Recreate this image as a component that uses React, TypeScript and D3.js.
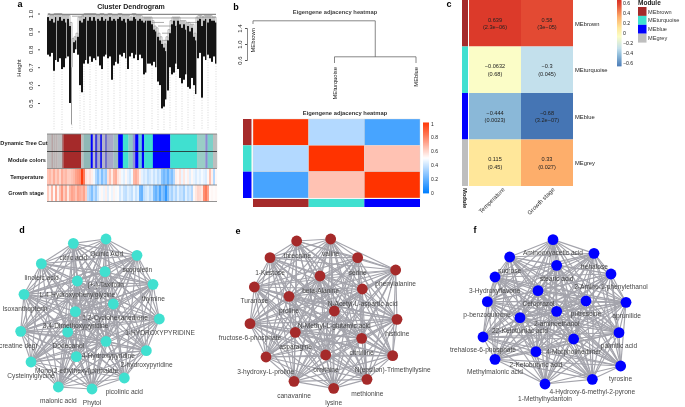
import * as d3 from "d3";
import { useEffect, useRef } from "react";

// panel a: dendrogram columns (height units), left to right
const dendroLow = [.77,.76,.78,.68,.74,.73,.75,.69,.70,.75,.76,.50,.38,.78,.80,.77,.60,.56,.72,.74,.72,.76,.73,.75,.74,.76,.71,.69,.76,.77,.75,.76,.63,.71,.73,.72,.77,.76,.78,.75,.69,.76,.78,.75,.77,.74,.77,.75,.66,.67,.72,.72,.71,.73,.70,.62,.60,.47,.48,.52,.57,.70,.66,.67,.72,.69,.64,.61,.63,.66,.59,.58,.64,.60,.55,.75,.78,.53,.76,.74,.77,.75,.73,.76,.72];
const dendroTop = [.98,.96,.97,.95,.98,.96,.98,.96,.97,.95,.97,.93,.70,.84,.85,.87,.96,.95,.97,.98,.96,.98,.96,.98,.96,.97,.96,.98,.96,.97,.96,.98,.96,.97,.96,.97,.98,.96,.97,.95,.97,.96,.96,.98,.97,.96,.97,.96,.95,.96,.96,.96,.94,.91,.90,.87,.85,.83,.81,.79,.85,.89,.94,.96,.93,.96,.94,.92,.94,.91,.93,.90,.92,.87,.85,.96,.97,.93,.96,.97,.95,.97,.96,.96,.95];
const dendroBranches: [number, number, number][] = [[0, 84, .995], [12, 18, .985], [48, 76, .975], [55, 66, .93], [57, 62, .89], [58, 60, .85], [52, 58, .95], [70, 75, .95], [76, 84, .98]];
const guideColumns = [3,7,12,16,18,21,24,27,30,33,36,39,42,45,48,52,55,58,61,64,67,70,73,77,80,84];
const heightTicks = [.5,.6,.7,.8,.9,1];

// module strip as runs of [colour, leaves]
const brown = "#a52a2a", turquoise = "#40e0d0", blue = "#0000ff", grey = "#bebebe";
const moduleRuns: [string, number][] = [[grey,14],["#a98a8a",3],[grey,6],["#a98a8a",2],[grey,4],["#a98a8a",2],[grey,14],["#a87474",4],[brown,53],[grey,7],["#8fb8b6",22],[blue,6],["#b8b8d0",7],["#3c3cdc",7],["#a8a8cc",8],["#2020e8",6],["#b4b4c8",9],["#6464cc",5],["#a8a8c8",20],["#9cbcc0",14],[blue,14],[turquoise,17],["#8fc8c4",13],["#9090d8",7],[blue,10],["#60c8d8",10],[blue,7],[turquoise,26],[blue,52],[turquoise,80],["#9acdc6",25],["#8a8ad0",7],["#7cd0c8",16],[grey,12]];

// trait correlation per column
const temperature = [.3,.35,.25,.4,.25,.35,.2,.4,.3,.35,.25,.25,.3,.35,.45,.5,.55,.95,.65,.15,.1,.15,.08,-.05,-.3,-.45,-.25,-.5,-.3,-.4,.15,.3,.1,.35,.4,.15,.08,-.05,-.12,.04,-.1,-.18,-.05,.35,.4,.3,.08,-.1,-.18,-.12,-.25,-.18,-.1,-.22,-.12,-.25,-.18,-.45,-.55,-.45,-.6,-.4,-.5,-.3,.08,.04,.15,-.08,.12,-.04,.08,-.12,.04,-.08,-.15,-.06,-.12,-.04,-.1,-.15,.04,.3,.08,-.3,.04];
const growth = [.25,.08,.35,.04,.4,.08,.3,.5,.25,.4,.12,.35,.45,.4,.3,.45,.4,.35,.45,.25,-.25,-.35,-.5,-.25,-.4,-.18,-.04,.04,-.08,.08,-.12,.02,-.08,.06,-.04,.02,-.18,-.08,-.22,-.25,-.12,-.18,-.25,-.08,-.22,-.12,-.55,-.6,-.25,-.18,-.12,-.25,-.18,-.5,-.6,-.45,-.7,-.45,-.55,-.8,-.5,-.25,-.35,-.18,-.3,-.12,-.25,-.22,-.35,-.12,-.25,-.18,-.3,.04,.12,.2,.18,.12,.55,.65,.45,.02,.04,.02,.04];

// panel b
const eigenModules = ["MEbrown", "MEturquoise", "MEblue"];
const eigenColors = [brown, turquoise, blue];
const adjacency = [[1,.35,.14],[.35,1,.65],[.14,.65,1]];
const treeTicks = [.6, 1, 1.4];
const treeRootHeight = 1.58, treeMergeHeight = .68;
const adjacencyTicks = [0,.2,.4,.6,.8,1];

// panel c
const traitModules = ["MEbrown", "MEturquoise", "MEblue", "MEgrey"];
const traitModuleColors = [brown, turquoise, blue, grey];
const traits = ["Temperature", "Growth stage"];
const traitCor = [[.639,.58],[-.0632,-.3],[-.444,-.68],[.115,.33]];
const traitCorText = [["0.639","0.58"],["\u22120.0632","\u22120.3"],["\u22120.444","\u22120.68"],["0.115","0.33"]];
const traitP = [["(2.3e\u221206)","(3e\u221205)"],["(0.68)","(0.045)"],["(0.0023)","(3.2e\u221207)"],["(0.45)","(0.027)"]];
const corTicks = [.6,.4,.2,0,-.2,-.4,-.6];

// panels d-f: network layout units, [name, nodeX, nodeY, labelX, labelY]
type Net = [string, number, number, number, number];
const netD: Net[] = [
  ["citric acid",220,85,220,128],["Quinic Acid",318,72,320,115],["scopoletin",411,121,412,163],["thymine",459,208,460,250],
  ["1,2-Cyclohexanedione",340,267,345,309],["(+-)-Taxifolin",315,170,317,210],["linoleic acid",124,146,125,187],
  ["L-4-Hydroxyphenylglycine",232,198,232,240],["Isoxanthopterin",72,238,75,280],["3,4-Dimethoxypyridine",226,290,227,331],
  ["1-HYDROXYPYRIDINE",478,312,480,352],["creatine degr",62,349,55,391],["Dodecanol",203,351,205,393],
  ["4-Hydroxypyridine",318,379,325,421],["2-hydroxypyridine",439,407,440,449],["Cysteinylglycine",93,441,93,483],
  ["Mono(2-ethylhexyl)phthalate",229,425,230,466],["malonic acid",175,516,175,557],["Phytol",276,522,276,563],["picolinic acid",373,489,373,531],
];
const netE: Net[] = [
  ["threonine",215,78,217,121],["valine",317,72,317,116],["1-Kestose",135,128,135,172],["serine",398,128,398,172],
  ["phenylalanine",512,165,512,207],["beta-Alanine",285,183,287,226],["N-Acetyl-L-aspartic acid",412,222,413,265],
  ["Turanose",88,216,88,258],["proline",192,244,192,287],["N-Methyl-L-glutamic acid",328,288,328,331],["histidine",516,313,517,356],
  ["fructose-6-phosphate",75,326,75,369],["asparagine",211,352,212,396],["citrulline",410,370,410,413],
  ["3-hydroxy-L-proline",123,426,122,470],["ornithine",302,420,303,463],["N(epsilon)-Trimethyllysine",503,422,503,465],
  ["canavanine",207,499,207,542],["lysine",326,520,326,563],["methionine",426,493,427,536],
];
const netF: Net[] = [
  ["Aminooxyacetic acid",309,74,309,114],["trehalose",432,115,433,154],["sucrose",179,126,179,167],["stearic acid",320,151,320,190],
  ["2-Amino-1-phenylethanol",483,177,483,215],["3-Hydroxyflavone",135,186,134,226],["Cefoprazol",264,227,265,265],
  ["putrescine",408,258,408,296],["p-benzoquinone",112,260,111,299],["aprunilide",528,262,530,301],["2-aminoethanol",320,289,320,327],
  ["22-Ketotuinlac acid",210,308,210,347],["palmitic acid",507,353,507,392],["trehalose-6-phosphate",99,366,99,405],
  ["4-Morpholinedimer",371,372,371,411],["2-Ketobutyric acid",258,410,258,449],["Methylmalonic acid",135,433,135,471],
  ["tyrosine",512,453,512,491],["4-Hydroxy-6-methyl-2-pyrone",427,493,427,529],["1-Methylhydantoin",285,507,285,550],
];

const FONT = "'Liberation Sans', Arial, sans-serif";

function App() {
  const ref = useRef<SVGSVGElement>(null);

  useEffect(() => {
    const svg = d3.select(ref.current);
    svg.selectAll("*").remove();
    svg.attr("font-family", FONT);

    const label = (x: number, y: number, t: string, size: number, opts: any = {}) =>
      svg.append("text").attr("x", x).attr("y", y).attr("font-size", size)
        .attr("text-anchor", opts.anchor ?? "middle")
        .attr("font-weight", opts.bold ? "bold" : "normal")
        .attr("fill", opts.fill ?? "#222")
        .attr("transform", opts.rotate ? `rotate(${opts.rotate},${x},${y})` : null)
        .text(t);

    [["a",20,7],["b",236,10],["c",449,7],["d",22,233],["e",238,234],["f",475,233]].forEach(([t,x,y]) =>
      label(x as number, y as number, t as string, 9, { bold: true, fill: "#000" }));

    // ---- panel a ----
    const colX = d3.scaleBand<number>().domain(d3.range(dendroLow.length)).range([47, 217]);
    const hY = d3.scaleLinear().domain([.5, 1]).range([103, 13.5]);
    const cx = (i: number) => colX(i)! + colX.bandwidth() / 2;

    label(131, 9, "Cluster Dendrogram", 7, { bold: true });
    label(21, 68, "Height", 6, { rotate: -90 });

    const axisA = svg.append("g").attr("transform", "translate(40,0)")
      .call(d3.axisLeft(hY).tickValues(heightTicks).tickSize(2).tickFormat(d3.format(".1f") as any));
    axisA.select(".domain").remove();
    axisA.selectAll("line").attr("stroke", "#555");
    axisA.selectAll("text").attr("font-size", 6).attr("font-family", FONT).attr("fill", "#222")
      .attr("transform", "rotate(-90)").attr("x", 0).attr("y", -7).attr("dy", 0).attr("text-anchor", "middle");

    svg.append("g").selectAll("line").data(guideColumns).join("line")
      .attr("x1", cx).attr("x2", cx).attr("y1", d => hY(dendroLow[d])).attr("y2", 130)
      .attr("stroke", "#c8c8c8").attr("stroke-width", .7).attr("stroke-dasharray", "1 1.5");

    const stairs = d3.range(dendroTop.length - 1).map(i => {
      const m = Math.max(dendroTop[i], dendroTop[i + 1]) + .02;
      return `M${cx(i)},${hY(dendroTop[i])}V${hY(m)}H${cx(i + 1)}V${hY(dendroTop[i + 1])}`;
    }).join("");
    svg.append("path").attr("d", stairs).attr("fill", "none").attr("stroke", "#999").attr("stroke-width", .7);

    svg.append("g").selectAll("line").data(dendroBranches).join("line")
      .attr("x1", d => cx(d[0])).attr("x2", d => cx(d[1]))
      .attr("y1", d => hY(d[2])).attr("y2", d => hY(d[2]))
      .attr("stroke", "#8a8a8a").attr("stroke-width", d => d[2] > .99 ? 1.4 : .7);

    svg.append("g").selectAll("rect").data(dendroLow).join("rect")
      .attr("x", (_, i) => colX(i)!).attr("width", (_, i) => i === 12 ? 1 : (i % 5 === 4 ? 1.4 : 2))
      .attr("y", (_, i) => hY(dendroTop[i])).attr("height", (d, i) => hY(d) - hY(dendroTop[i]))
      .attr("fill", (_, i) => i === 12 ? "#9a9a9a" : "#141414");

    // colour strips
    const totalLeaves = d3.sum(moduleRuns, d => d[1]);
    const leafX = d3.scaleLinear().domain([0, totalLeaves]).range([47, 217]);
    const starts = d3.cumsum(moduleRuns.map(d => d[1]));
    svg.append("g").selectAll("rect").data(moduleRuns).join("rect")
      .attr("x", (d, i) => leafX(starts[i] - d[1])).attr("y", 134)
      .attr("width", d => leafX(d[1]) - leafX(0) + .2).attr("height", 34)
      .attr("fill", d => d[0]);

    const traitColor = d3.scaleLinear<string>().domain([-1, 0, 1]).range(["#0080ff", "#ffffff", "#ff3300"]);
    ([[temperature, 168.5], [growth, 185]] as [number[], number][]).forEach(([vals, y]) => {
      svg.append("g").selectAll("rect").data(vals).join("rect")
        .attr("x", (_, i) => colX(i)!).attr("y", y).attr("width", colX.bandwidth() + .2).attr("height", 16.5)
        .attr("fill", d => traitColor(d));
    });
    [134, 168.5, 185, 201.5].forEach(y =>
      svg.append("line").attr("x1", 47).attr("x2", 217).attr("y1", y).attr("y2", y).attr("stroke", "#777").attr("stroke-width", .8));
    svg.append("line").attr("x1", 47).attr("x2", 217).attr("y1", 151.5).attr("y2", 151.5).attr("stroke", "#222").attr("stroke-width", .8);

    label(24, 145, "Dynamic Tree Cut", 5.6, { bold: true });
    label(27, 162, "Module colors", 5.6, { bold: true });
    label(27, 179, "Temperature", 5.6, { bold: true });
    label(26, 195, "Growth stage", 5.6, { bold: true });

    // ---- panel b ----
    label(335, 14, "Eigengene adjacency heatmap", 5.8, { bold: true, fill: "#444" });
    const treeY = d3.scaleLinear().domain([.6, 1.4]).range([60, 28]);
    const axisB = svg.append("g").attr("transform", "translate(247,0)")
      .call(d3.axisLeft(treeY).tickValues(treeTicks).tickSize(2).tickFormat(d3.format(".1f") as any));
    axisB.select(".domain").attr("stroke", "#555").attr("stroke-width", .7);
    axisB.selectAll("line").attr("stroke", "#555");
    axisB.selectAll("text").attr("font-size", 6).attr("font-family", FONT).attr("fill", "#222")
      .attr("transform", "rotate(-90)").attr("x", 0).attr("y", -5).attr("dy", 0).attr("text-anchor", "middle");

    const leafXb = d3.scalePoint<string>().domain(eigenModules).range([253, 416]);
    const mx = (leafXb("MEturquoise")! + leafXb("MEblue")!) / 2;
    const rootY = treeY(treeRootHeight), mergeY = treeY(treeMergeHeight);
    svg.append("path").attr("fill", "none").attr("stroke", "#555").attr("stroke-width", .7)
      .attr("d", `M${leafXb("MEbrown")},24V${rootY}H${mx}V${mergeY}M${leafXb("MEturquoise")},63V${mergeY}H${leafXb("MEblue")}V63`);
    label(leafXb("MEbrown")! + 2, 28, "MEbrown", 5.8, { rotate: -90, anchor: "end", fill: "#222" });
    label(leafXb("MEturquoise")! + 2, 67, "MEturquoise", 5.8, { rotate: -90, anchor: "end", fill: "#222" });
    label(leafXb("MEblue")! + 2, 67, "MEblue", 5.8, { rotate: -90, anchor: "end", fill: "#222" });

    label(345, 115, "Eigengene adjacency heatmap", 5.8, { bold: true, fill: "#333" });
    const adjColor = d3.scaleLinear<string>().domain([0, .5, 1]).range(["#0080ff", "#ffffff", "#ff3300"]);
    const hmX = d3.scaleBand<number>().domain([0, 1, 2]).range([253, 420]);
    const hmY = d3.scaleBand<number>().domain([0, 1, 2]).range([119, 198]);
    adjacency.forEach((row, r) => {
      svg.append("g").selectAll("rect").data(row).join("rect")
        .attr("x", (_, c) => hmX(c)!).attr("y", hmY(r)!)
        .attr("width", hmX.bandwidth()).attr("height", hmY.bandwidth())
        .attr("fill", d => adjColor(d)).attr("stroke", "#d8d8d8").attr("stroke-width", .4);
    });
    svg.append("g").selectAll("rect").data(eigenColors).join("rect")
      .attr("x", 243).attr("y", (_, i) => hmY(i)!).attr("width", 8.5).attr("height", hmY.bandwidth()).attr("fill", d => d);
    svg.append("g").selectAll("rect").data(eigenColors).join("rect")
      .attr("x", (_, i) => hmX(i)!).attr("y", 199).attr("width", hmX.bandwidth()).attr("height", 8).attr("fill", d => d);

    const adjLegY = d3.scaleLinear().domain([0, 1]).range([193, 123.5]);
    d3.range(0, 70).forEach(i => {
      const v = i / 69;
      svg.append("rect").attr("x", 423).attr("y", adjLegY(v) - 1).attr("width", 6).attr("height", 1.4).attr("fill", adjColor(v));
    });
    adjacencyTicks.forEach(t => label(431, adjLegY(t) + 2, String(t), 5, { anchor: "start" }));

    // ---- panel c ----
    const corColor = d3.scaleLinear<string>()
      .domain([-.68, -.444, -.3, -.0632, .115, .33, .58, .639])
      .range(["#4575b4", "#8ab8d8", "#c3e0ec", "#fbfdc7", "#ffe79a", "#fdae6b", "#e34a33", "#dc3a2a"]);
    const cX = d3.scaleBand<number>().domain([0, 1]).range([469, 573]);
    const cY = d3.scaleBand<number>().domain([0, 1, 2, 3]).range([0, 186]);
    traitCor.forEach((row, r) => {
      row.forEach((v, c) => {
        svg.append("rect").attr("x", cX(c)!).attr("y", cY(r)!).attr("width", cX.bandwidth()).attr("height", cY.bandwidth()).attr("fill", corColor(v));
        const tx = cX(c)! + cX.bandwidth() / 2, ty = cY(r)! + cY.bandwidth() / 2;
        label(tx, ty - 1.5, traitCorText[r][c], 5.6);
        label(tx, ty + 6, traitP[r][c], 5.6);
      });
      svg.append("rect").attr("x", 462).attr("y", cY(r)!).attr("width", 6).attr("height", cY.bandwidth()).attr("fill", traitModuleColors[r]);
      label(575, cY(r)! + 25.5, traitModules[r], 5.8, { anchor: "start", fill: "#222" });
    });
    label(463, 188, "Module", 5.8, { rotate: 90, anchor: "start", bold: true });
    label(505, 190, traits[0], 6, { rotate: -45, anchor: "end", fill: "#333" });
    label(555, 190, traits[1], 6, { rotate: -45, anchor: "end", fill: "#333" });

    const corLegY = d3.scaleLinear().domain([-.6, .6]).range([63, 3]);
    d3.range(0, 66).forEach(i => {
      const v = corLegY.invert(i);
      svg.append("rect").attr("x", 617).attr("y", i).attr("width", 4.5).attr("height", 1.4).attr("fill", corColor(v));
    });
    corTicks.forEach(t => label(623, corLegY(t) + 2, t < 0 ? `\u2212${Math.abs(t)}` : String(t), 5.2, { anchor: "start" }));
    label(638, 5, "Module", 6.5, { anchor: "start", bold: true });
    traitModules.forEach((m, i) => {
      svg.append("rect").attr("x", 638).attr("y", 7 + i * 8.9).attr("width", 8.5).attr("height", 8.9).attr("fill", traitModuleColors[i]);
      label(648, 13.5 + i * 8.9, m, 5.6, { anchor: "start", fill: "#333" });
    });

    // ---- panels d, e, f ----
    const drawNet = (nodes: Net[], x0: number, color: string) => {
      const px = d3.scaleLinear().domain([0, 705]).range([x0, x0 + 235]);
      const py = d3.scaleLinear().domain([0, 576]).range([215, 407]);
      const g = svg.append("g");
      nodes.forEach((a, i) => {
        nodes.slice(i + 1).forEach(b => {
          g.append("line").attr("x1", px(a[1])).attr("y1", py(a[2])).attr("x2", px(b[1])).attr("y2", py(b[2]))
            .attr("stroke", "#a4a4ac").attr("stroke-width", 1.15);
        });
      });
      g.selectAll("circle").data(nodes).join("circle")
        .attr("cx", d => px(d[1])).attr("cy", d => py(d[2])).attr("r", 5.4).attr("fill", color);
      nodes.forEach(n => label(px(n[3]), py(n[4]) + 2.3, n[0], 6.6, { fill: "#484848" }));
    };
    drawNet(netD, 0, turquoise);
    drawNet(netE, 225, brown);
    drawNet(netF, 450, blue);
  }, []);

  return <svg ref={ref} width={685} height={407} style={{ position: "absolute", left: 0, top: 0, filter: "blur(0.35px)" }} />;
}

export default App;
